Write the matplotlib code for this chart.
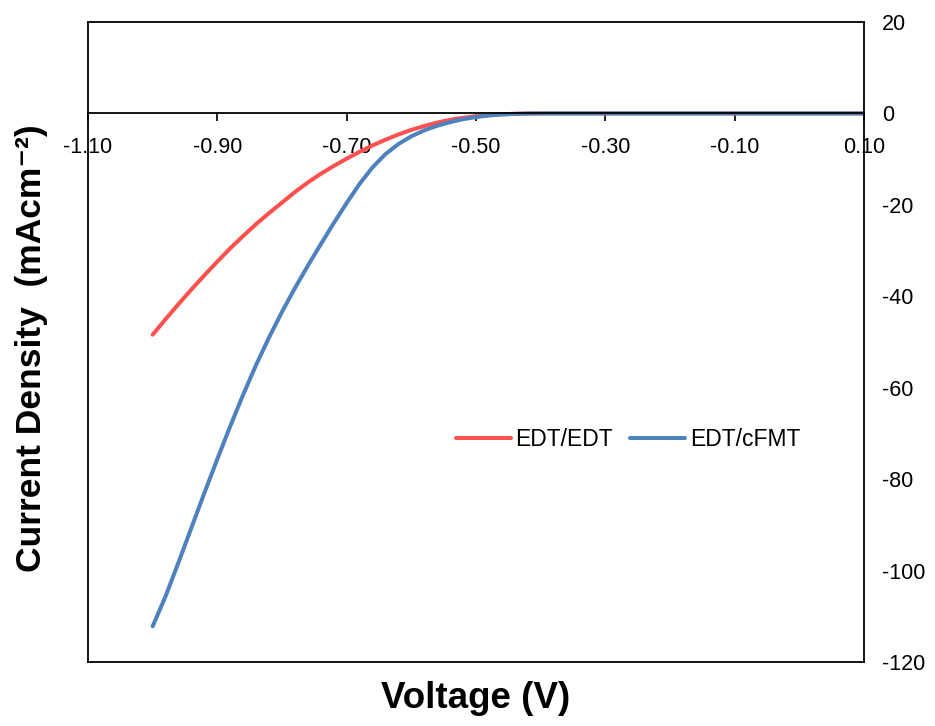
import matplotlib
matplotlib.use("Agg")
import matplotlib.pyplot as plt

plt.rcParams['font.family'] = ['Liberation Sans', 'DejaVu Sans']

# ---- data ----
voltage = [-1.00, -0.98, -0.96, -0.94, -0.92, -0.90, -0.88, -0.86, -0.84, -0.82,
           -0.80, -0.78, -0.76, -0.74, -0.72, -0.70, -0.68, -0.66, -0.64, -0.62,
           -0.60, -0.58, -0.56, -0.54, -0.52, -0.50, -0.48, -0.46, -0.44, -0.42,
           -0.40, -0.30, -0.20, -0.10, 0.00, 0.10]
edt_edt = [-48.4, -45.0, -41.7, -38.5, -35.4, -32.4, -29.5, -26.8, -24.2, -21.8,
           -19.5, -17.2, -15.1, -13.2, -11.5, -9.9, -8.4, -7.0, -5.75, -4.6,
           -3.6, -2.75, -2.0, -1.4, -0.95, -0.6, -0.35, -0.18, -0.08, -0.02,
           0.0, 0.0, 0.0, 0.0, 0.0, 0.0]
edt_cfmt = [-112.2, -105.6, -98.2, -90.6, -83.0, -75.6, -68.4, -61.5, -55.0, -49.0,
            -43.4, -38.2, -33.3, -28.6, -24.0, -19.6, -15.4, -11.8, -8.9, -6.7,
            -5.0, -3.7, -2.7, -1.9, -1.25, -0.8, -0.45, -0.22, -0.1, -0.03,
            0.0, 0.0, 0.0, 0.0, 0.0, 0.0]
series_names = ["EDT/EDT", "EDT/cFMT"]
x_ticks = [-1.10, -0.90, -0.70, -0.50, -0.30, -0.10, 0.10]
x_tick_labels = ["-1.10", "-0.90", "-0.70", "-0.50", "-0.30", "-0.10", "0.10"]
y_ticks = [20, 0, -20, -40, -60, -80, -100, -120]

# ---- figure ----
fig = plt.figure(figsize=(9.35, 7.26), dpi=100)
W, H = 935, 726
L, R, T, B = 88, 864, 22, 662
ax = fig.add_axes([L / W, 1 - B / H, (R - L) / W, (B - T) / H])

ax.plot(voltage, edt_edt, color="#FF5050", lw=2.9, solid_capstyle="round",
        solid_joinstyle="round", label=series_names[0])
ax.plot(voltage, edt_cfmt, color="#4F81BD", lw=2.9, solid_capstyle="round",
        solid_joinstyle="round", label=series_names[1])

ax.set_xlim(-1.10, 0.10)
ax.set_ylim(-120, 20)

# x axis crossing at y = 0
ax.spines['bottom'].set_position(('data', 0))
for s in ['bottom', 'top', 'left', 'right']:
    ax.spines[s].set_linewidth(1.3)
    ax.spines[s].set_color('black')
# bottom border of plot area
ax.plot([0, 1], [0, 0], transform=ax.transAxes, color='black', lw=1.3,
        clip_on=False)

ax.set_xticks(x_ticks)
ax.set_xticklabels(x_tick_labels)
ax.tick_params(axis='x', direction='out', length=6, width=1.2, pad=11,
               labelsize=15.5)

ax.yaxis.tick_right()
ax.set_yticks(y_ticks)
ax.set_yticklabels([str(v) for v in y_ticks])
ax.tick_params(axis='y', length=0, pad=13, labelsize=15.5)

leg = ax.legend(loc='center', bbox_to_anchor=(0.696, 0.347), ncol=2,
                frameon=False, fontsize=16.5, handlelength=2.4,
                handletextpad=0.2, columnspacing=0.75)
for h in leg.get_lines():
    h.set_linewidth(2.9)
    h.set_solid_capstyle('round')

fig.text(476 / W, 1 - 698 / H, "Voltage (V)", ha='center', va='center',
         fontsize=26.5, fontweight='bold')
fig.text(32 / W, 1 - 348 / H, "Current Density  (mAcm\u207b\u00b2)",
         ha='center', va='center', rotation=90, fontsize=25.5, fontweight='bold')

fig.savefig("out.png", dpi=100)
